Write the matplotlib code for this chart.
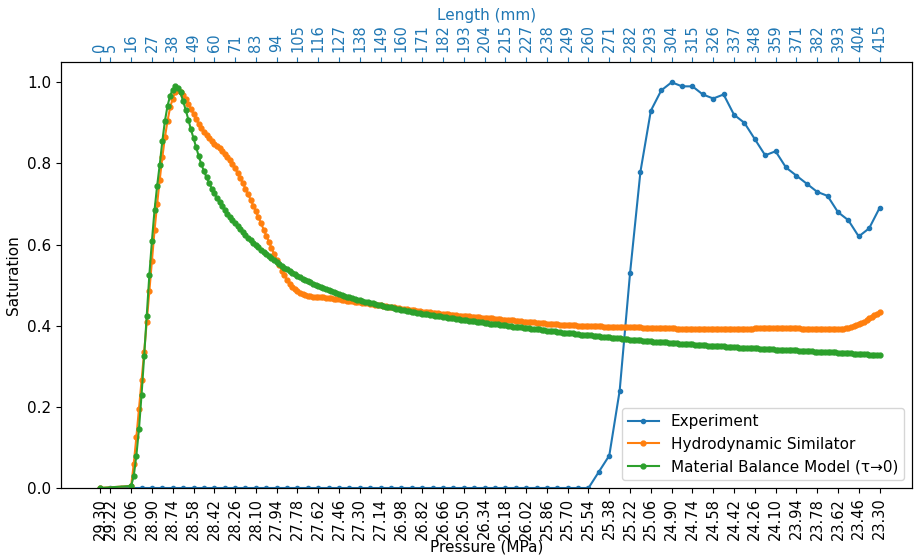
import numpy as np
import matplotlib
matplotlib.use("Agg")
import matplotlib.pyplot as plt

# ---------------- data ----------------
exp_pressure = [29.30, 29.22, 29.14, 29.06, 28.98, 28.90, 28.82, 28.74, 28.66, 28.58,
                28.50, 28.42, 28.34, 28.26, 28.18, 28.10, 28.02, 27.94, 27.86, 27.78,
                27.70, 27.62, 27.54, 27.46, 27.38, 27.30, 27.22, 27.14, 27.06, 26.98,
                26.90, 26.82, 26.74, 26.66, 26.58, 26.50, 26.42, 26.34, 26.26, 26.18,
                26.10, 26.02, 25.94, 25.86, 25.78, 25.70, 25.62, 25.54, 25.46, 25.38,
                25.30, 25.22, 25.14, 25.06, 24.98, 24.90, 24.82, 24.74, 24.66, 24.58,
                24.50, 24.42, 24.34, 24.26, 24.18, 24.10, 24.02, 23.94, 23.86, 23.78,
                23.70, 23.62, 23.54, 23.46, 23.38, 23.30]
exp_saturation = [0.0] * 48 + [0.04, 0.08, 0.24, 0.53, 0.78, 0.93, 0.98, 1.00, 0.99, 0.99,
                               0.97, 0.96, 0.97, 0.92, 0.90, 0.86, 0.82, 0.83, 0.79, 0.77,
                               0.75, 0.73, 0.72, 0.68, 0.66, 0.62, 0.64, 0.69]

# simulated curves: first point at 29.30 MPa, then a fine grid from 29.06 to 23.30 MPa
sim_start_pressure = 29.30
sim_grid_start, sim_grid_end = 29.06, 23.30

hydro_saturation = [0.0,
    0.005, 0.06, 0.125, 0.195, 0.265, 0.335, 0.41, 0.485, 0.56, 0.635,
    0.70, 0.76, 0.815, 0.865, 0.905, 0.938, 0.96, 0.976, 0.981, 0.977,
    0.969, 0.958, 0.947, 0.934, 0.921, 0.909, 0.897, 0.887, 0.878, 0.870,
    0.862, 0.855, 0.849, 0.843, 0.837, 0.831, 0.824, 0.817, 0.809, 0.799,
    0.788, 0.776, 0.764, 0.751, 0.738, 0.724, 0.710, 0.696, 0.682, 0.667,
    0.652, 0.637, 0.622, 0.607, 0.592, 0.577, 0.563, 0.549, 0.536, 0.524,
    0.513, 0.504, 0.496, 0.490, 0.485, 0.481, 0.478, 0.476, 0.474, 0.473,
    0.472, 0.471, 0.471, 0.470, 0.470, 0.469, 0.469, 0.468, 0.467, 0.466,
    0.465, 0.464, 0.463, 0.462, 0.461, 0.460,
    0.459, 0.458, 0.458, 0.457, 0.456, 0.455, 0.454, 0.453, 0.452, 0.451,
    0.450, 0.449, 0.448, 0.447, 0.446, 0.445, 0.444, 0.443, 0.442, 0.441,
    0.440, 0.439, 0.439, 0.438, 0.437, 0.436, 0.435, 0.435, 0.434, 0.433,
    0.432, 0.431, 0.431, 0.430, 0.429, 0.428, 0.428, 0.427, 0.427, 0.426,
    0.425, 0.425, 0.424, 0.424, 0.423, 0.422, 0.422, 0.421, 0.421, 0.420,
    0.419, 0.419, 0.418, 0.418, 0.417, 0.416, 0.416, 0.415, 0.415, 0.414,
    0.413, 0.413, 0.412, 0.412, 0.411, 0.410, 0.410, 0.409, 0.409, 0.408,
    0.407, 0.407, 0.406, 0.406, 0.405, 0.404, 0.404, 0.403, 0.403, 0.402,
    0.402, 0.402, 0.401, 0.401, 0.401, 0.401, 0.400, 0.400, 0.400, 0.400,
    0.400, 0.399, 0.399, 0.399, 0.399, 0.399, 0.398, 0.398, 0.398, 0.398,
    0.398, 0.397, 0.397, 0.397, 0.397, 0.397, 0.396, 0.396, 0.396, 0.396,
    0.396, 0.395, 0.395, 0.395, 0.395, 0.395, 0.395, 0.394, 0.394, 0.394,
    0.394, 0.394, 0.394, 0.394, 0.393, 0.393, 0.393, 0.393, 0.393, 0.393,
    0.393, 0.393, 0.393, 0.393, 0.393, 0.393, 0.393, 0.393, 0.393, 0.393,
    0.393, 0.393, 0.393, 0.393, 0.393, 0.393, 0.393, 0.393, 0.393, 0.393,
    0.393, 0.393, 0.393, 0.393, 0.394, 0.394, 0.394, 0.394, 0.394, 0.394,
    0.394, 0.394, 0.394, 0.394, 0.394, 0.394, 0.394, 0.394, 0.394, 0.394,
    0.394, 0.394, 0.393, 0.393, 0.393, 0.393, 0.393, 0.393, 0.392, 0.392,
    0.392, 0.392, 0.392, 0.392, 0.392, 0.392, 0.392, 0.393,
    0.393, 0.394, 0.395, 0.397, 0.399, 0.401, 0.404, 0.407, 0.410, 0.414,
    0.418, 0.422, 0.426, 0.430, 0.435]

balance_saturation = [0.0,
    0.005, 0.03, 0.08, 0.145, 0.23, 0.325, 0.425, 0.525, 0.61, 0.685,
    0.745, 0.797, 0.855, 0.905, 0.942, 0.967, 0.982, 0.991, 0.986, 0.975,
    0.953, 0.932, 0.908, 0.884, 0.862, 0.840, 0.818, 0.798, 0.781, 0.766,
    0.752, 0.738, 0.726, 0.715, 0.704, 0.694, 0.685, 0.676, 0.668, 0.660,
    0.652, 0.645, 0.638, 0.631, 0.624, 0.617, 0.611, 0.605, 0.599, 0.593,
    0.587, 0.581, 0.576, 0.571, 0.566, 0.561, 0.556, 0.551, 0.547, 0.543,
    0.539, 0.535, 0.531, 0.527, 0.523, 0.519, 0.516, 0.513, 0.510, 0.507,
    0.504, 0.501, 0.498, 0.495, 0.492, 0.490, 0.487, 0.485, 0.482, 0.480,
    0.478, 0.476, 0.474, 0.472, 0.470, 0.468,
    0.466, 0.464, 0.463, 0.461, 0.459, 0.458, 0.456, 0.455, 0.453, 0.452,
    0.450, 0.449, 0.447, 0.446, 0.445, 0.443, 0.442, 0.441, 0.439, 0.438,
    0.437, 0.436, 0.434, 0.433, 0.432, 0.431, 0.430, 0.429, 0.428, 0.427,
    0.426, 0.425, 0.424, 0.423, 0.422, 0.421, 0.420, 0.419, 0.418, 0.417,
    0.416, 0.415, 0.414, 0.413, 0.412, 0.411, 0.411, 0.410, 0.409, 0.408,
    0.407, 0.406, 0.405, 0.405, 0.404, 0.403, 0.402, 0.401, 0.401, 0.400,
    0.399, 0.398, 0.397, 0.397, 0.396, 0.395, 0.394, 0.394, 0.393, 0.392,
    0.391, 0.391, 0.390, 0.389, 0.388, 0.388, 0.387, 0.386, 0.385, 0.384,
    0.383, 0.383, 0.382, 0.381, 0.381, 0.380, 0.379, 0.378, 0.378, 0.377,
    0.376, 0.376, 0.375, 0.374, 0.374, 0.373, 0.372, 0.372, 0.371, 0.370,
    0.370, 0.369, 0.369, 0.368, 0.367, 0.367, 0.366, 0.366, 0.365, 0.364,
    0.364, 0.363, 0.363, 0.362, 0.362, 0.361, 0.361, 0.360, 0.360, 0.359,
    0.359, 0.358, 0.358, 0.357, 0.357, 0.356, 0.356, 0.355, 0.355, 0.354,
    0.354, 0.353, 0.353, 0.352, 0.352, 0.352, 0.351, 0.351, 0.350, 0.350,
    0.350, 0.349, 0.349, 0.348, 0.348, 0.348, 0.347, 0.347, 0.346, 0.346,
    0.346, 0.345, 0.345, 0.344, 0.344, 0.344, 0.343, 0.343, 0.343, 0.342,
    0.342, 0.342, 0.341, 0.341, 0.341, 0.340, 0.340, 0.340, 0.339, 0.339,
    0.339, 0.338, 0.338, 0.338, 0.337, 0.337, 0.337, 0.336, 0.336, 0.336,
    0.335, 0.335, 0.335, 0.334, 0.334, 0.334, 0.333, 0.333, 0.333, 0.332,
    0.332, 0.332, 0.331, 0.331, 0.331, 0.330, 0.330, 0.330, 0.329, 0.329,
    0.329, 0.328, 0.328]

pressure_tick_labels = ["29.30", "29.22", "29.06", "28.90", "28.74", "28.58", "28.42", "28.26",
                        "28.10", "27.94", "27.78", "27.62", "27.46", "27.30", "27.14", "26.98",
                        "26.82", "26.66", "26.50", "26.34", "26.18", "26.02", "25.86", "25.70",
                        "25.54", "25.38", "25.22", "25.06", "24.90", "24.74", "24.58", "24.42",
                        "24.26", "24.10", "23.94", "23.78", "23.62", "23.46", "23.30"]
length_tick_labels = ["0", "5", "16", "27", "38", "49", "60", "71", "83", "94", "105", "116",
                      "127", "138", "149", "160", "171", "182", "193", "204", "215", "227",
                      "238", "249", "260", "271", "282", "293", "304", "315", "326", "337",
                      "348", "359", "371", "382", "393", "404", "415"]

# ---------------- plot ----------------
def sim_x(values):
    grid = np.linspace(sim_grid_start, sim_grid_end, len(values) - 1)
    return np.concatenate([[sim_start_pressure], grid])

fig = plt.figure(figsize=(9.14, 5.56), dpi=100)
ax = fig.add_axes([61 / 914, (556 - 488) / 556, 851 / 914, (488 - 62) / 556])

ax.plot(exp_pressure, exp_saturation, '.-', color='tab:blue', label='Experiment')
ax.plot(sim_x(hydro_saturation), hydro_saturation, '.-', color='tab:orange',
        markersize=7, label='Hydrodynamic Similator')
ax.plot(sim_x(balance_saturation), balance_saturation, '.-', color='tab:green',
        markersize=7, label='Material Balance Model (τ→0)')

tick_pos = [float(t) for t in pressure_tick_labels]
ax.set_xlim(29.60, 23.05)
ax.set_ylim(0, 1.05)
ax.set_xticks(tick_pos)
ax.set_xticklabels(pressure_tick_labels, rotation=90, fontsize=10.5)
ax.tick_params(axis='y', labelsize=11)
ax.set_xlabel('Pressure (MPa)', fontsize=11)
ax.xaxis.set_label_coords(0.5, -0.122)
ax.set_ylabel('Saturation', fontsize=11)
ax.legend(loc='lower right', fontsize=11)

ax2 = ax.twiny()
ax2.set_xlim(ax.get_xlim())
ax2.set_xticks(tick_pos)
ax2.set_xticklabels(length_tick_labels, rotation=90, fontsize=10.5)
ax2.tick_params(axis='x', colors='tab:blue')
ax2.set_xlabel('Length (mm)', color='tab:blue', fontsize=11, labelpad=3)

fig.savefig('out.png', dpi=100)
